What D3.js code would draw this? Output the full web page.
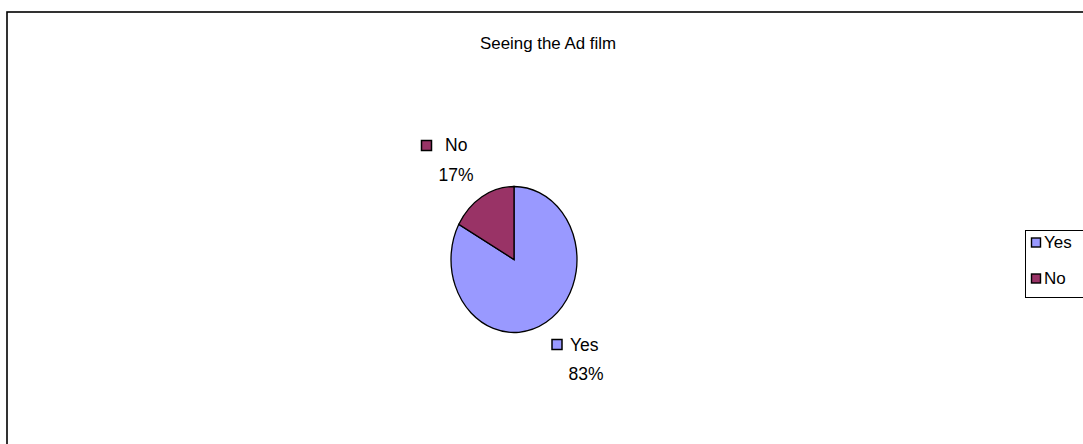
<!DOCTYPE html>
<html><head><meta charset="utf-8">
<script src="https://cdn.jsdelivr.net/npm/d3@7"></script>
<style>body{margin:0;background:#fff;} svg{display:block;font-family:Arial,"Liberation Sans",sans-serif;}</style>
</head><body>
<svg id="c" width="1083" height="444"></svg>
<script>
const categories = ["Yes", "No"];
const values = [83, 17];
const colors = ["#9999FF", "#993366"];
const title = "Seeing the Ad film";

const svg = d3.select("#c");
svg.append("rect").attr("x",7).attr("y",12).attr("width",1200).attr("height",600)
  .attr("fill","none").attr("stroke","#000").attr("stroke-width",1.6);

svg.append("text").attr("x",548).attr("y",49).attr("text-anchor","middle")
  .attr("font-size",17).attr("textLength",136).attr("lengthAdjust","spacingAndGlyphs").text(title);

const cx = 514, cy = 259.5, rx = 63, ry = 73;
const pie = d3.pie().sort(null).value(d=>d)(values);
const arc = d3.arc().innerRadius(0).outerRadius(ry);
const g = svg.append("g").attr("transform",`translate(${cx},${cy}) scale(${rx/ry},1)`);
g.selectAll("path").data(pie).join("path")
  .attr("d",arc).attr("fill",(d,i)=>colors[i])
  .attr("stroke","#000").attr("stroke-width",1.3).attr("vector-effect","non-scaling-stroke");

const total = d3.sum(values);
const fmt = v => Math.round(v/total*100) + "%";
// data labels
const labelPos = [{mx:552, my:339.5, tx:570, ty:351, px:568.5, py:380}, {mx:421.5, my:140.5, tx:445, ty:151, px:438.5, py:181}];
labelPos.forEach((p,i)=>{
  svg.append("rect").attr("x",p.mx).attr("y",p.my).attr("width",10).attr("height",10)
    .attr("fill",colors[i]).attr("stroke","#000").attr("stroke-width",1.5);
  svg.append("text").attr("x",p.tx).attr("y",p.ty).attr("font-size",17.5).text(categories[i]);
  svg.append("text").attr("x",p.px).attr("y",p.py).attr("font-size",17.5).text(fmt(values[i]));
});

// legend
svg.append("rect").attr("x",1025.5).attr("y",230.5).attr("width",100).attr("height",67)
  .attr("fill","#fff").attr("stroke","#000").attr("stroke-width",1);
categories.forEach((c,i)=>{
  const y = 238 + i*36;
  svg.append("rect").attr("x",1031.5).attr("y",y).attr("width",9).attr("height",9)
    .attr("fill",colors[i]).attr("stroke","#000").attr("stroke-width",1.4);
  svg.append("text").attr("x",1044).attr("y",y+10).attr("font-size",17).text(c);
});
</script>
</body></html>
